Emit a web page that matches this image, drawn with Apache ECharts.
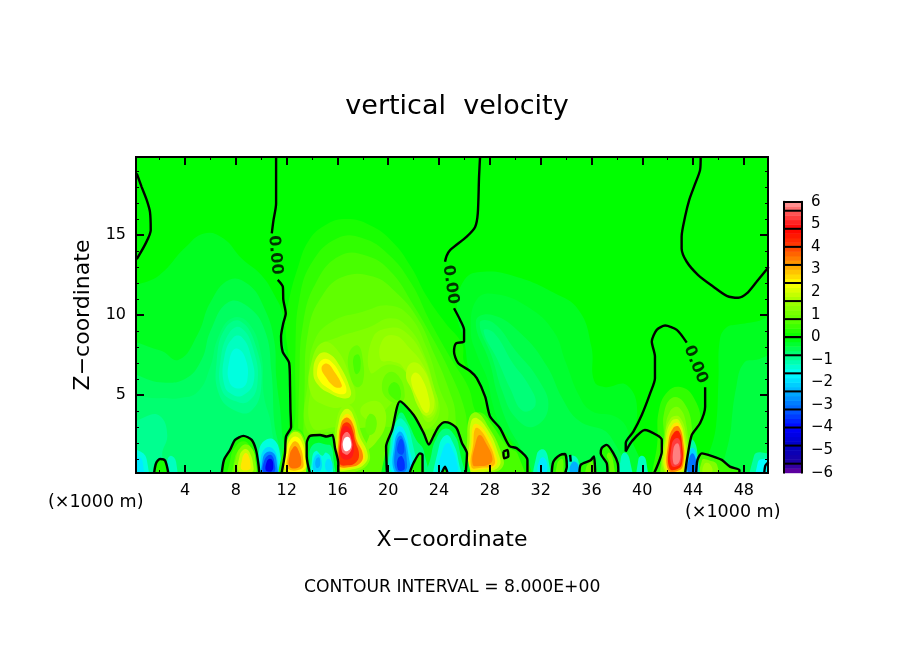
<!DOCTYPE html>
<html>
<head>
<meta charset="utf-8">
<title>vertical velocity</title>
<script src="https://cdn.jsdelivr.net/npm/echarts@6/dist/echarts.min.js"></script>
<style>html,body{margin:0;background:#fff}#chart{width:904px;height:654px}</style>
</head>
<body>
<div id="chart"></div>
<script>
// axis range and ticks (km)
const xRange = [0.14, 49.9];
const zRange = [0.12, 19.88];
const xMajor = [4, 8, 12, 16, 20, 24, 28, 32, 36, 40, 44, 48];
const xMinor = [2, 6, 10, 14, 18, 22, 26, 30, 34, 38, 42, 46];
const zMajor = [5, 10, 15];
const zMinor = [1, 2, 3, 4, 6, 7, 8, 9, 11, 12, 13, 14, 16, 17, 18, 19];

// colour bar
const barTicks = [-6, -5, -4, -3, -2, -1, 0, 1, 2, 3, 4, 5, 6];
const barEdges = [-5.6, -4.8, -4, -3.2, -2.4, -1.6, -0.8, 0, 0.8, 1.6, 2.4, 3.2, 4, 4.8, 5.6];
const paletteValues = [-6, -5.6, -4.8, -4, -3.2, -2.4, -1.6, -0.8, 0, 0.8, 1.6, 2.4, 3.2, 4, 4.8, 5.6, 6];
const paletteColors = ['#7000a0', '#2000a0', '#0000c0', '#0000ff', '#0060ff', '#00b0ff', '#00ffff', '#00ff80', '#00ff00',
  '#60ff00', '#a0ff00', '#ffff00', '#ffa000', '#ff4000', '#ff0000', '#ff6060', '#ffa0a0'];

// filled contour regions: [w, [x, z, x, z, ...]]
const negativeLeft = [
  [-0.2, [-1,11, 2,12.5, 4,14.2, 5.5,15.1, 7,14.8, 8.5,13.5, 10,12.5, 11,11.3, 11.7,10, 11.7,8.6, 12.1,7, 12.3,4, 12,2, 11.7,-1, -1,-1]],
  [-0.4, [-1,8, 2,7.8, 3.5,7.2, 5,8.8, 6,10.8, 7.5,12.2, 9,11.9, 10.2,10.5, 11,8.5, 11.2,6, 11.6,3, 11.5,-1, -1,-1]],
  [-0.6, [-1,6.2, 2,5.8, 4,6, 5.3,7.2, 6,9, 7.4,10.8, 9,10.5, 10.3,9, 10.8,6.5, 11,3.5, 11.3,-1, -1,-1]],
  [-0.7, [-1,4.6, 2,4.8, 3.5,4.8, 5,5.2, 6,6.8, 6.6,8.6, 7.7,9.8, 9,9.5, 10,7.5, 10.2,5, 10.8,3, 11,-1, -1,-1]],
  [-0.85, [6.7,5, 6.5,7.2, 7.2,9.2, 8.4,9.6, 9.6,8, 10,5.5, 9.2,4, 8,4]],
  [-0.9, [-1,2.5, 0.8,3.6, 2,3.7, 2.6,2.5, 2.2,1.2, 2.8,-1, -1,-1]],
  [-1.0, [6.9,5.3, 6.8,7.2, 7.5,8.9, 8.4,9.2, 9.4,7.8, 9.7,5.7, 9,4.6, 8,4.6]],
  [-1.2, [7.1,5.6, 7.1,7.4, 7.8,8.6, 8.5,8.6, 9.2,7.4, 9.4,5.8, 8.6,5, 7.8,5]],
  [-1.4, [7.5,5.8, 7.5,7.2, 8,7.9, 8.7,7.4, 8.9,5.9, 8.3,5.4]],
  [-1.4, [-1,-1, -1,1.6, 0.4,1.5, 1,0.9, 0.9,-1]],
  [-1.8, [-1,-1, -1,1, 0.4,1.1, 0.7,0.6, 0.7,-1]],
  [-1.2, [2.5,-1, 2.6,0.9, 2.9,1.2, 3.3,0.8, 3.3,-1]],
  [-1.4, [9.8,-1, 9.8,1.3, 10.2,2.1, 11,2.2, 11.5,1.2, 11.6,-1]],
  [-2.0, [9.9,-1, 9.95,0.9, 10.3,1.65, 10.9,1.65, 11.3,0.9, 11.4,-1]],
  [-2.8, [10,-1, 10.1,0.9, 10.4,1.4, 10.9,1.4, 11.2,0.9, 11.2,-1]],
  [-3.4, [10.15,0.2, 10.2,0.8, 10.5,1.2, 10.85,1.2, 11.05,0.7, 11.05,0.2, 10.6,0.1]],
  [-4.2, [10.35,0.3, 10.4,0.75, 10.6,1, 10.85,0.95, 10.95,0.55, 10.85,0.25, 10.6,0.2]]
];
const negativeRight = [
  [-0.2, [25.4,10.2, 26,12.2, 27.5,12.7, 30,12.4, 33,11.4, 35,10.3, 36,8, 36.2,5.9, 37,5.5, 38.8,5.6, 39.6,3.8, 38.7,2, 38.7,1.46, 38.1,0.7, 38.1,-1, 31,-1, 30,1.6, 28,3.7, 27,6, 26.4,6.5, 26,8.3]],
  [-0.3, [26.5,9, 27,11, 28.5,11.3, 31,10.5, 33,9, 34,7, 35,5, 36,4, 38,3.6, 39,2.5, 40,-1, 31.2,-1, 30.3,1.5, 28.9,3, 28.2,4.5, 27.8,6, 27,7.5]],
  [-0.45, [26.9,9.6, 28.2,10, 30.5,8.8, 32.5,6.8, 33.7,4.8, 35,3.4, 37.5,2.4, 38.5,-1, 31.3,-1, 30.5,1.5, 29.5,3, 28.6,5, 28,7]],
  [-0.6, [27.2,9.5, 28.3,9.5, 30,7.8, 31.8,6, 32.6,4.2, 31.4,3, 30,3.6, 29,5.2, 28.2,7.3]],
  [-0.75, [27.5,9, 28.3,8.9, 29.8,7, 31,5.7, 31.6,4.4, 30.6,4, 29.6,5.4, 28.6,7.2]],
  [-1.2, [31.5,-1, 31.7,1.3, 32.2,1.6, 32.6,1, 32.7,-1]],
  [-1.8, [31.8,0.1, 31.9,0.9, 32.2,1.1, 32.5,0.7, 32.4,0.1]],
  [-1.2, [34,-1, 34.1,1, 34.6,1.2, 35,0.8, 35.1,-1]],
  [-2.4, [34.3,0.2, 34.45,0.75, 34.8,0.8, 35,0.4, 34.8,0.1]],
  [-1.2, [38.2,-1, 38.3,1, 38.6,1.4, 39,1, 39.2,-1]],
  [-1.2, [39.6,-1, 39.7,1, 40,1.2, 40.3,0.9, 40.4,-1]],
  [-0.2, [46.6,9.2, 47.5,9.4, 49,9.6, 51,10, 51,-1, 45,-1, 45.8,3, 46,6, 46.1,8.4]],
  [-0.4, [48,7, 49,7.2, 51,7.5, 51,-1, 46.6,-1, 47,3, 47.4,5.5]],
  [-1.0, [48.6,-1, 48.8,1.2, 49.4,1.4, 50.5,1, 50.5,-1]],
  [-1.6, [49,-1, 49.1,0.8, 49.5,1, 50.5,0.8, 50.5,-1]]
];
const centralDome = [
  [0.2, [12.3,-1, 12.3,4, 12.2,7, 11.9,9.5, 12.2,11, 12.9,13, 13.7,14.6, 15,15.6, 16.7,16, 18.6,15.6, 20.3,14.6, 21.8,13, 23,11.2, 24.5,9.5, 25.8,8.2, 26,7, 27,6, 27.6,4.9, 28,3.6, 28.9,2.9, 30,1.7, 31,0.9, 31,-1]],
  [0.4, [12.6,-1, 12.7,4, 12.7,8, 13,11, 14,13.3, 16,14.8, 18,14.8, 20,13.8, 21.8,12, 23.3,9.6, 25,7.2, 26.3,5.5, 27,3.8, 28.4,2.8, 29.6,1.5, 30.4,-1]],
  [0.6, [12.9,1, 13,6, 13.3,9.5, 14.3,12, 16.2,13.7, 18.3,13.7, 20.2,12.7, 22,10.6, 23.6,8.4, 25,6.2, 25.9,4.4, 26.2,3, 26,-1, 12.9,-1]],
  [0.8, [13.3,1, 13.4,5, 13.7,9, 14.8,11.2, 16.5,12.4, 18.8,12.4, 20.5,11.5, 22.3,9.8, 23.6,7.6, 24.7,5.5, 25.3,3.6, 24.8,-1, 13.3,-1]],
  [1.0, [13.6,2.8, 13.7,6, 14.2,8.4, 15.6,9.6, 18,10.2, 20,10.6, 21.6,10, 23,8, 24,5.5, 24.7,3.5, 23,2.8, 20,3, 18,3, 15.5,2.7]],
  [1.2, [14,3, 14,6, 14.6,8, 16,8.6, 18.4,9.2, 20.2,9.8, 21.6,9.2, 22.8,7.6, 23.6,5.5, 24,3.8, 22.8,2.9, 20.9,4.6, 19,3.4, 18.5,3, 16,3]],
  [0.9, [17,6.2, 16.9,7.6, 17.6,8.1, 18,7.2, 18,5.8, 17.5,5.5]],
  [0.6, [17.3,6.6, 17.3,7.4, 17.7,7.5, 17.8,6.6, 17.5,6.3]],
  [0.9, [19.5,5.5, 20,6.4, 20.8,6.2, 21.3,5, 20.9,4.5, 20,4.7]],
  [0.6, [20,5.3, 20.4,5.8, 20.9,5.5, 20.9,4.7, 20.4,4.8]],
  [1.4, [18.6,6.4, 18.8,8.6, 20.2,9.2, 21.4,8.9, 22.7,7.5, 23.6,5.5, 23.9,4.2, 23.1,3.3, 22.2,4.8, 21.4,6.4, 20,6.9]],
  [1.6, [19.4,7.2, 19.6,8.5, 20.6,8.7, 21.6,8, 22.8,6.8, 23.5,5.2, 23.7,4, 23,3.6, 22.1,5.1, 21.1,6.8, 20.3,7.1]],
  [1.8, [21.4,6.2, 21.8,7, 22.6,6.8, 23.4,5.4, 23.6,4.2, 23,3.7, 22.4,4.2, 21.8,5.4]],
  [2.1, [21.8,5.9, 22.1,6.4, 22.6,6.1, 23.2,4.8, 23.2,4, 22.9,3.9, 22.4,4.6]],
  [1.4, [13.9,5.1, 14,7.2, 14.9,8.3, 16,7.8, 17,6.1, 17.4,4.8, 16.6,4.3, 15.2,4.3]],
  [2.0, [14.1,6.4, 14.5,7.5, 15.3,7.6, 16.2,6.8, 17,5.4, 17,4.9, 16.4,4.8, 15.4,5.1, 14.5,5.6]],
  [2.4, [14.4,6.5, 14.8,7.2, 15.5,7.1, 16.4,6, 16.7,5.2, 16.2,5.05, 15.3,5.4, 14.6,5.9]],
  [2.9, [14.75,6.7, 15.2,6.95, 15.8,6.4, 16.35,5.6, 16.2,5.45, 15.7,5.55, 15.1,6.1]],
  [1.4, [17.8,4, 18.6,4.6, 19.5,4.4, 19.8,3.2, 19,2, 18.2,1.6, 18.6,3]],
  [0.9, [18.2,3, 18.5,3.8, 19,3.6, 19,2.8, 18.5,2.5]]
];
const lowHills = [
  [0.2, [1.56,-1, 1.72,0.73, 2.03,1, 2.43,0.9, 2.69,-1]],
  [0.2, [6.89,-1, 7.07,0.94, 7.54,1.56, 7.94,2.19, 8.6,2.44, 9.25,2.19, 9.59,1.56, 9.77,0.73, 9.85,-1]],
  [0.5, [7.4,-1, 7.6,1.1, 8,1.8, 8.6,2.1, 9.1,1.8, 9.4,1, 9.5,-1]],
  [0.8, [7.8,-1, 7.9,1, 8.3,1.6, 8.8,1.9, 9.3,1.6, 9.5,1, 9.5,-1]],
  [1.2, [8,0.1, 8.05,1.2, 8.4,1.75, 8.8,1.9, 9.3,1.6, 9.55,0.9, 9.5,0.1]],
  [1.9, [8.25,0.2, 8.3,1.2, 8.55,1.55, 8.85,1.6, 9.15,1.3, 9.35,0.7, 9.3,0.2]],
  [2.6, [8.45,0.35, 8.5,1, 8.65,1.3, 8.85,1.35, 9.05,1.1, 9.15,0.65, 9.1,0.35]],
  [0.3, [32.87,-1, 33,0.83, 33.53,1.25, 33.92,1.31, 34.06,0.52, 33.92,-1]],
  [0.8, [33.2,-1, 33.3,0.7, 33.7,1, 33.8,0.4, 33.7,-1]],
  [0.3, [35.05,-1, 35.16,0.63, 35.9,0.9, 36.2,1.15, 36.29,-1]],
  [0.8, [35.5,-1, 35.6,0.5, 36.1,0.8, 36.2,-1]],
  [0.3, [37.26,-1, 37.2,0.73, 36.73,1.35, 36.8,1.67, 37.2,1.88, 37.73,1.35, 38.07,0.73, 38.12,-1]],
  [0.9, [37.5,-1, 37.4,0.8, 37.2,1.2, 37.4,1.4, 37.7,0.9, 37.9,-1]],
  [0.5, [44.24,-1, 44.35,0.94, 44.69,1.35, 45.6,1.15, 46.26,0.94, 46.9,0.52, 47.65,0.31, 47.65,-1]],
  [1.2, [44.6,-1, 44.7,0.9, 45.3,0.9, 45.9,0.6, 46,-1]],
  [1.6, [44.8,0.1, 44.9,0.7, 45.3,0.7, 45.5,0.2]]
];
const lowPockets = [
  [-0.2, [13.84,-1, 13.58,1.15, 13.58,1.98, 13.84,2.44, 14.63,2.5, 15.15,2.4, 15.6,2.5, 15.81,1.67, 16.07,0.73, 16.07,-1]],
  [-0.8, [14,-1, 13.8,1, 13.9,1.7, 14.4,2, 15.1,1.9, 15.5,1.8, 15.7,0.9, 15.8,-1]],
  [-1.4, [14.05,-1, 14,1, 14.3,1.5, 14.8,1.2, 15.1,1.4, 15.5,1, 15.5,-1]],
  [-2.0, [14.1,0.3, 14.15,1, 14.5,1.3, 14.75,0.9, 14.7,0.3, 14.4,0.2]],
  [-2.4, [14.3,0.5, 14.3,0.95, 14.55,1.1, 14.65,0.7, 14.5,0.45]],
  [-1.9, [15.05,0.4, 15.15,0.95, 15.5,0.9, 15.6,0.4, 15.3,0.2]],
  [-0.2, [19.9,-1, 19.83,1.77, 20.3,2.8, 20.93,4.6, 22,3.75, 22.8,2.6, 23.2,1.9, 23.55,2.4, 23.95,3, 24.47,3.3, 24.87,3.23, 25.4,2.9, 25.8,2, 26.2,1.35, 26.1,-1]],
  [-0.8, [20.1,-1, 20.1,1.8, 20.5,3, 21,3.9, 21.6,3.2, 22.2,2.2, 22.8,1.5, 23,-1]],
  [-1.2, [20.2,-1, 20.2,2, 20.6,3.3, 21.1,3.5, 21.8,2.4, 22.2,-1]],
  [-1.8, [20.35,0.1, 20.35,2, 20.7,3, 21.2,2.9, 21.7,1.5, 21.9,0.1]],
  [-2.4, [20.5,0.2, 20.5,2, 20.85,2.7, 21.2,2.5, 21.6,1.2, 21.6,0.2]],
  [-3.0, [20.6,0.3, 20.6,1.9, 20.9,2.45, 21.2,2.2, 21.45,1, 21.35,0.25]],
  [-3.6, [20.75,0.35, 20.75,1, 21.1,1.15, 21.3,0.4, 21,0.25]],
  [-3.4, [20.75,1.4, 20.8,2, 21.05,2.25, 21.25,1.8, 21.15,1.3]],
  [-0.8, [23,-1, 23.4,1.3, 23.8,2.3, 24.5,2.9, 25.2,2.5, 25.6,1.6, 25.9,-1]],
  [-1.4, [23.7,-1, 24,1.8, 24.6,2.5, 25.1,2, 25.5,1, 25.7,-1]],
  [-1.8, [24.1,0.3, 24.3,1.6, 24.7,2, 25.1,1.5, 25.4,0.8, 25.4,0.2]],
  [0.3, [21.67,-1, 21.98,0.73, 22.5,1.35, 22.7,1.25, 22.7,-1]],
  [0.2, [24.2,-1, 24.47,0.52, 24.68,-1]],
  [-1.0, [43.4,-1, 43.6,1.2, 43.9,2.2, 44.3,1.6, 44.4,-1]],
  [-2.0, [43.5,-1, 43.6,1, 43.95,1.7, 44.3,1.1, 44.3,-1]],
  [-3.0, [43.6,0.2, 43.65,0.9, 43.95,1.35, 44.25,0.85, 44.25,0.2]]
];
const updraftPeaks = [
  // x = 12.7
  [0.4, [12,-1, 12.2,2.2, 12.7,2.9, 13.3,2.6, 13.7,1, 13.8,-1]],
  [1.0, [11.9,-1, 12,1.9, 12.3,2.6, 12.7,2.8, 13.25,2.5, 13.7,1.2, 13.7,-1]],
  [1.9, [11.8,0.2, 11.9,1.6, 12.2,2.4, 12.7,2.7, 13.2,2.4, 13.6,1.2, 13.6,0.2]],
  [2.4, [11.95,0.3, 12,1.5, 12.3,2.2, 12.7,2.4, 13.15,2.1, 13.45,1.1, 13.35,0.3]],
  [3.0, [12.1,0.4, 12.15,1.4, 12.4,1.95, 12.7,2.1, 13.05,1.8, 13.3,1, 13.2,0.4]],
  [3.6, [12.25,0.5, 12.25,1.3, 12.5,1.7, 12.7,1.8, 12.95,1.5, 13.15,0.9, 13,0.5]],
  // x = 17
  [1.4, [15.7,0.3, 15.75,2, 15.95,3.5, 16.4,4.3, 16.9,4.4, 17.4,3.9, 17.9,2.6, 18.5,1.5, 18.4,0.7, 17.4,0.2, 16.4,0.1]],
  [2.0, [15.85,0.4, 15.9,2, 16.1,3.3, 16.45,4, 16.9,4.1, 17.35,3.5, 17.75,2.4, 18.35,1.4, 18.2,0.75, 17.2,0.35]],
  [2.6, [16,0.5, 16.05,2, 16.2,3.1, 16.5,3.7, 16.9,3.8, 17.3,3.3, 17.6,2.3, 18.15,1.3, 18,0.8, 17,0.45]],
  [3.4, [16.1,0.6, 16.1,2.2, 16.25,3.1, 16.5,3.5, 16.9,3.55, 17.3,3, 17.5,2.2, 18,1.3, 17.8,0.75, 17,0.5]],
  [4.2, [16.2,0.7, 16.2,2.2, 16.3,2.9, 16.55,3.25, 16.9,3.25, 17.2,2.8, 17.4,2.1, 17.7,1.25, 17.4,0.75, 16.8,0.6]],
  [5.0, [16.25,1.2, 16.25,2.3, 16.4,2.9, 16.7,3.05, 17,2.85, 17.25,2.1, 17.2,1.2, 16.7,0.95]],
  [5.7, [16.35,1.5, 16.35,2.2, 16.55,2.6, 16.85,2.65, 17.1,2.2, 17.15,1.7, 16.85,1.3, 16.6,1.3]],
  [6.5, [16.45,1.7, 16.45,2.1, 16.65,2.35, 16.9,2.35, 17.05,2.1, 17.05,1.7, 16.8,1.5, 16.6,1.5]],
  // x = 27.5
  [0.6, [26.3,-1, 26.3,2, 26.6,3.6, 27.3,3.9, 28.2,3.1, 29.3,1.8, 30.2,1.3, 30.6,-1]],
  [1.4, [26.1,0.2, 26.2,2, 26.4,3.6, 27,3.9, 27.9,3, 28.8,1.6, 29,0.5, 27.6,0.1]],
  [2.0, [26.3,0.3, 26.4,2, 26.55,3.4, 27,3.55, 27.85,2.8, 28.6,1.5, 28.75,0.55, 27.6,0.2]],
  [2.6, [26.45,0.4, 26.55,2, 26.7,3.1, 27.1,3.15, 27.8,2.5, 28.4,1.4, 28.5,0.6, 27.4,0.35]],
  [3.0, [26.55,0.5, 26.7,2, 26.85,2.9, 27.2,2.85, 27.9,2, 28.35,1.1, 28.3,0.6, 27.3,0.45]],
  [3.4, [26.65,0.65, 26.85,1.9, 27.2,2.5, 27.75,1.9, 28.2,1.05, 28,0.7, 27.2,0.55]],
  // x = 42.7
  [0.4, [41,-1, 41.2,2.2, 41.3,4, 42,5.2, 43,5.5, 44,4.9, 44.6,3.2, 43.9,2.5, 43.6,1, 43.4,-1]],
  [0.8, [41.6,-1, 41.7,2.5, 41.7,3.8, 42.3,4.8, 43.2,4.6, 43.9,3, 43.6,1, 43.4,-1]],
  [1.2, [41.7,-1, 41.8,2.6, 42.2,4, 42.9,4.2, 43.5,3, 43.55,1, 43.4,-1]],
  [1.6, [41.75,0.2, 41.75,2.2, 42.2,3.5, 42.95,3.6, 43.5,2.2, 43.55,0.8, 43.25,0.15]],
  [2.0, [41.85,0.2, 41.85,2.2, 42.3,3.35, 42.9,3.4, 43.4,2, 43.45,0.8, 43.15,0.2]],
  [2.6, [41.95,0.25, 41.95,2.1, 42.4,3.15, 42.9,3.2, 43.3,2, 43.35,0.8, 43.05,0.25]],
  [3.4, [42.05,0.3, 42.05,2, 42.45,2.95, 42.9,3, 43.25,1.9, 43.25,0.8, 42.95,0.3]],
  [4.4, [42.15,0.4, 42.15,1.9, 42.5,2.65, 42.9,2.7, 43.15,1.8, 43.15,0.8, 42.85,0.4]],
  [5.3, [42.3,0.6, 42.3,1.8, 42.55,2.25, 42.9,2.25, 43.05,1.6, 43.05,0.9, 42.8,0.55]],
  [5.8, [42.45,0.75, 42.45,1.6, 42.65,1.95, 42.85,1.95, 42.98,1.4, 42.95,0.9, 42.7,0.65]]
];
const fillRegions = negativeLeft.concat(negativeRight, centralDome, lowHills, updraftPeaks, lowPockets);

// zero contour lines: [x, z, x, z, ...]
const contourLines = [
  [0.2,18.85, 0.59,18, 0.98,17.2, 1.24,16.45, 1.3,15.3, 0.85,14.4, 0.2,13.5],
  [11.17,19.9, 11.17,16.98, 10.96,15.9, 10.83,15.1],
  [11.3,12.2, 11.7,11.77, 11.74,10.94, 11.93,10.1, 11.74,9.5, 11.56,8.65, 11.69,7.7, 12.2,7, 12.27,5.5, 12.3,4.1, 12.35,3, 11.95,2.4, 11.87,1.35, 11.6,0.1],
  [19.9,0.1, 19.83,1.77, 20.3,2.8, 20.93,4.6, 22,3.75, 22.8,2.6, 23.2,1.9, 23.55,2.4, 23.95,3, 24.47,3.3, 24.87,3.23, 25.4,2.9, 25.8,2, 26.2,1.35, 26.1,0.1],
  [27.23,19.9, 27.15,18.65, 27.05,16.35, 26.84,15.5, 26.18,14.9, 24.87,14.06, 24.6,13.7, 24.47,13.33],
  [25.18,10.42, 25.66,9.69, 25.97,9.07, 25.97,8.34, 25.34,8.23, 25.18,7.7, 25.5,7, 26.44,6.5, 26.97,6.05, 27.63,4.9, 28.02,3.65, 28.8,2.92, 29.54,1.81, 30.12,1.67, 30.96,0.94, 30.96,0.1],
  [29.07,1.46, 29.38,1.56, 29.46,1.15, 29.12,1.04, 29.07,1.46],
  [32.87,0.1, 33,0.83, 33.53,1.25, 33.92,1.31, 34.06,0.52, 33.92,0.1],
  [34.32,1.25, 34.37,0.83],
  [35.05,0.1, 35.16,0.63, 35.9,0.9, 36.2,1.15, 36.29,0.1],
  [37.26,0.1, 37.2,0.73, 36.73,1.35, 36.8,1.67, 37.2,1.88, 37.73,1.35, 38.07,0.73, 38.12,0.1],
  [38.7,1.46, 38.7,2, 39.3,2.71, 39.96,3.75, 40.62,5.1, 41,6.04, 41,7.4, 40.75,8.34, 41.14,9.07, 41.8,9.34, 42.72,9.07, 43.5,8.27],
  [44.95,5.48, 44.95,4.27, 44.55,3.23, 43.9,2.5, 43.56,1.15, 43.37,0.1],
  [38.7,1.46, 39.17,2.09, 40.2,2.81, 41.14,2.5, 41.54,2.19, 41.54,1.46, 41.27,0.73, 40.93,0.1],
  [44.24,0.1, 44.35,0.94, 44.69,1.35, 45.6,1.15, 46.26,0.94, 46.9,0.52, 47.65,0.31, 47.65,0.1],
  [49.6,0.1, 49.7,0.6, 49.95,0.8],
  [44.6,19.9, 44.55,19.06, 44.16,18.2, 43.7,17.2, 43.37,16.14, 43.1,14.9, 43.1,14.16, 43.5,13.33, 44.4,12.5, 45.6,11.77, 46.65,11.2, 47.57,11.08, 48.23,11.35, 49,12.08, 49.95,13],
  [1.56,0.1, 1.72,0.73, 2.03,1, 2.43,0.9, 2.69,0.1],
  [6.89,0.1, 7.07,0.94, 7.54,1.56, 7.94,2.19, 8.6,2.44, 9.25,2.19, 9.59,1.56, 9.77,0.73, 9.85,0.1],
  [13.84,0.1, 13.58,1.15, 13.58,1.98, 13.84,2.44, 14.63,2.5, 15.15,2.4, 15.6,2.5, 15.81,1.67, 16.07,0.73, 16.07,0.1],
  [21.67,0.1, 21.98,0.73, 22.5,1.35, 22.7,1.25, 22.7,0.1],
  [24.2,0.1, 24.47,0.52, 24.68,0.1]
];
// labels on the contour: [x, z, rotation]
const contourLabels = [[11.1, 13.75, -85], [24.9, 11.9, -82], [44.2, 6.9, -68]];

const plotFont = '"DejaVu Sans"';

function bandColor(w) {
  if (w > 6) return '#ffffff';
  for (let i = 0; i < paletteValues.length - 1; i++) {
    if (w <= paletteValues[i + 1]) {
      const t = (w - paletteValues[i]) / (paletteValues[i + 1] - paletteValues[i]);
      return echarts.color.lerp(t, [paletteColors[i], paletteColors[i + 1]]);
    }
  }
  return paletteColors[paletteColors.length - 1];
}

function toPairs(flat) {
  const out = [];
  for (let i = 0; i < flat.length; i += 2) out.push([flat[i], flat[i + 1]]);
  return out;
}

// frame side with ticks; major and minor ticks need one axis each
function plotAxis(position, range, ticks, len, width, extra) {
  return Object.assign({
    type: 'value', gridIndex: 0, position: position, min: range[0], max: range[1], z: 10,
    splitLine: { show: false },
    axisLine: { show: true, onZero: false, lineStyle: { color: '#000', width: 2 } },
    axisTick: { show: true, inside: true, length: len, customValues: ticks, lineStyle: { color: '#000', width: width } },
    axisLabel: { show: false }
  }, extra || {});
}

const tickLabel = { show: true, color: '#000', fontFamily: plotFont, fontSize: 16, margin: 10 };
const axisName = { color: '#000', fontFamily: plotFont, fontSize: 22 };

const chart = echarts.init(document.getElementById('chart'));

// the colour bar is split into 0.2 wide bands
const barBands = [];
for (let i = 0; i < 60; i++) barBands.push([0, -6 + i * 0.2, -6 + (i + 1) * 0.2]);

const series = [{
  type: 'custom',
  xAxisIndex: 0, yAxisIndex: 0,
  clip: true,
  silent: true,
  z: 2,
  data: fillRegions.map(function (r, i) { return [r[1][0], r[1][1], i]; }),
  renderItem: function (params, api) {
    const region = fillRegions[params.dataIndex];
    return {
      type: 'polygon',
      shape: { points: toPairs(region[1]).map(function (p) { return api.coord(p); }), smooth: 0.45 },
      style: { fill: bandColor(region[0]) }
    };
  }
}];

contourLines.forEach(function (path) {
  series.push({
    type: 'line', xAxisIndex: 0, yAxisIndex: 0, data: toPairs(path), showSymbol: false,
    silent: true, clip: true, z: 3, smooth: 0.25, lineStyle: { color: '#000', width: 2.4 }
  });
});

series.push({
  type: 'scatter', xAxisIndex: 0, yAxisIndex: 0, symbolSize: 1, silent: true, z: 4,
  itemStyle: { color: 'transparent' },
  data: contourLabels.map(function (l) {
    return {
      value: [l[0], l[1]],
      label: { show: true, position: 'inside', formatter: '0.00', rotate: l[2], color: '#000',
        fontFamily: plotFont, fontWeight: 'bold', fontSize: 16 }
    };
  })
});

series.push({
  type: 'custom', xAxisIndex: 4, yAxisIndex: 4, silent: true, z: 2,
  data: barBands,
  renderItem: function (params, api) {
    const lo = api.coord([0, api.value(1)]);
    const hi = api.coord([1, api.value(2)]);
    return {
      type: 'rect',
      shape: { x: lo[0], y: hi[1], width: hi[0] - lo[0], height: lo[1] - hi[1] + 0.5 },
      style: { fill: bandColor((api.value(1) + api.value(2)) / 2) }
    };
  }
});
series.push({
  type: 'custom', xAxisIndex: 4, yAxisIndex: 4, silent: true, z: 3,
  data: barEdges.map(function (e) { return [0, e]; }),
  renderItem: function (params, api) {
    const a = api.coord([0, api.value(1)]);
    const b = api.coord([1, api.value(1)]);
    return {
      type: 'line',
      shape: { x1: a[0], y1: a[1], x2: b[0], y2: b[1] },
      style: { stroke: '#000', lineWidth: 2 }
    };
  }
});

chart.setOption({
  animation: false,
  backgroundColor: '#fff',
  title: {
    text: 'vertical  velocity', left: 452, top: 88, textAlign: 'center',
    textStyle: { color: '#000', fontFamily: plotFont, fontWeight: 'normal', fontSize: 27 }
  },
  grid: [
    { left: 136, top: 157, width: 632, height: 316, show: true, backgroundColor: '#00ff00', borderWidth: 0 },
    { left: 784, top: 201.7, width: 18, height: 271, show: false }
  ],
  xAxis: [
    plotAxis('bottom', xRange, xMajor, 8, 2, {
      axisLabel: Object.assign({ customValues: xMajor }, tickLabel),
      name: 'X\u2212coordinate', nameLocation: 'middle', nameGap: 56, nameTextStyle: axisName
    }),
    plotAxis('bottom', xRange, xMinor, 3, 1),
    plotAxis('top', xRange, xMajor, 8, 2),
    plotAxis('top', xRange, xMinor, 3, 1),
    { type: 'value', gridIndex: 1, min: 0, max: 1, z: 10, splitLine: { show: false }, axisTick: { show: false }, axisLabel: { show: false },
      axisLine: { show: true, lineStyle: { color: '#000', width: 2 } } },
    { type: 'value', gridIndex: 1, position: 'top', min: 0, max: 1, z: 10, splitLine: { show: false }, axisTick: { show: false }, axisLabel: { show: false },
      axisLine: { show: true, onZero: false, lineStyle: { color: '#000', width: 2 } } }
  ],
  yAxis: [
    plotAxis('left', zRange, zMajor, 8, 2, {
      axisLabel: Object.assign({ customValues: zMajor }, tickLabel),
      name: 'Z\u2212coordinate', nameLocation: 'middle', nameGap: 42, nameTextStyle: axisName
    }),
    plotAxis('left', zRange, zMinor, 3, 1),
    plotAxis('right', zRange, zMajor, 8, 2),
    plotAxis('right', zRange, zMinor, 3, 1),
    { type: 'value', gridIndex: 1, position: 'right', min: -6, max: 6, interval: 1, z: 10, splitLine: { show: false }, axisTick: { show: false },
      axisLine: { show: true, onZero: false, lineStyle: { color: '#000', width: 2 } },
      axisLabel: { show: true, color: '#000', fontFamily: plotFont, fontSize: 15, margin: 9,
        customValues: barTicks, formatter: function (v) { return String(v).replace('-', '\u2212'); } } },
    { type: 'value', gridIndex: 1, position: 'left', min: -6, max: 6, z: 10, splitLine: { show: false }, axisTick: { show: false }, axisLabel: { show: false },
      axisLine: { show: true, onZero: false, lineStyle: { color: '#000', width: 2 } } }
  ],
  series: series,
  graphic: [
    { type: 'text', left: 48, top: 493, style: { text: '(\u00d71000 m)', fill: '#000', font: '17.5px ' + plotFont } },
    { type: 'text', left: 685, top: 503, style: { text: '(\u00d71000 m)', fill: '#000', font: '17.5px ' + plotFont } },
    { type: 'text', left: 304, top: 579, style: { text: 'CONTOUR INTERVAL = 8.000E+00', fill: '#000', font: '17.2px ' + plotFont } }
  ]
});
</script>
</body>
</html>
